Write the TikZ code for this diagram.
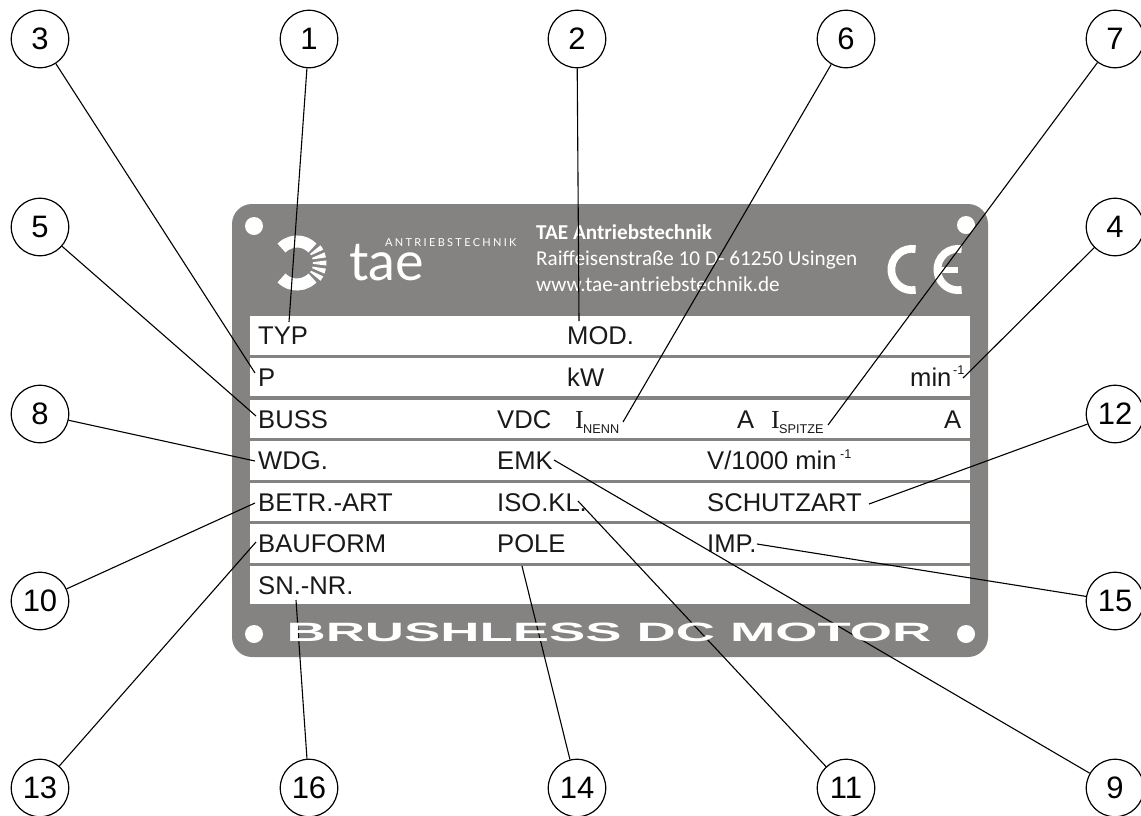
\documentclass[tikz,border=0pt]{standalone}
\usepackage{fontspec}
\setmainfont{Liberation Sans}
\newfontfamily\serifI{Liberation Serif}
\newfontfamily\infofont{Carlito}
\newfontfamily\logofont{Lato}
\newfontfamily\spacedfont[LetterSpace=21]{Lato}
\newfontfamily\platefont[FakeStretch=2.05]{Liberation Sans}
\definecolor{plategray}{HTML}{858381}
\tikzset{
    numcirc/.style={circle, draw, line width=1.2pt, minimum size=57.5pt, inner sep=0pt, font=\fontsize{31}{35}\selectfont},
    leader/.style={line width=1.1pt},
    lbl/.style={anchor=base west, inner sep=0pt, text=black!90, font=\fontsize{25.6}{30}\selectfont},
    info/.style={anchor=base west, inner sep=0pt, text=white, font=\infofont\fontsize{21.2}{25}\selectfont},
    subtxt/.style={anchor=base west, inner sep=0pt, text=black!90, font=\fontsize{12.7}{15}\selectfont},
}
\begin{document}
\begin{tikzpicture}[x=1pt, y=-1pt]
    \useasboundingbox (0,0) rectangle (1141,815);

    % plate
    \fill[plategray, rounded corners=20pt] (232,204) rectangle (988,657);
    \foreach \ya/\yb in {316/355, 358/396, 400/438, 441/480, 483/521, 524/563, 566/604}
        \fill[white] (250,\ya) rectangle (970,\yb);
    \foreach \hx/\hy in {254/226, 966/225, 254/634, 966/634}
        \fill[white] (\hx,\hy) circle[radius=9];

    % logo
    \begin{scope}[shift={(297,263)}]
        \draw[white, line width=12pt] (-136:21.5) arc[start angle=-136, end angle=-44, radius=21.5];
        \draw[white, line width=12pt] (44:21.5) arc[start angle=44, end angle=136, radius=21.5];
        \foreach \a in {-32,-16,0,16,32}
            \fill[white] (\a-3:16) -- (\a+3:16) -- (\a+5:29.5) -- (\a-5:29.5) -- cycle;
    \end{scope}
    \node[anchor=base west, inner sep=0pt, white, font=\logofont\fontsize{54}{58}\selectfont] (logotae) at (349,280) {tae};
    \node[anchor=base west, inner sep=0pt, white, font=\spacedfont\fontsize{11}{13}\selectfont] (logosub) at (385,246) {ANTRIEBSTECHNIK};

    % address
    \node[info, font=\infofont\bfseries\fontsize{21.2}{25}\selectfont] (addr1) at (536,239) {TAE Antriebstechnik};
    \node[info] (addr2) at (536,265) {Raiffeisenstraße 10 D- 61250 Usingen};
    \node[info] (addr3) at (536,291) {www.tae-antriebstechnik.de};

    % CE mark
    \draw[white, line width=7.7pt] (912,269.5) ++(80:20.7) arc[start angle=80, end angle=280, radius=20.7];
    \draw[white, line width=7.7pt] (958,269.5) ++(80:20.7) arc[start angle=80, end angle=280, radius=20.7];
    \fill[white] (941,266.5) rectangle (958,273);

    % column 1
    \node[lbl] (typ) at (258,344) {TYP};
    \node[lbl] (pw) at (258,386) {P};
    \node[lbl] (buss) at (258,428) {BUSS};
    \node[lbl] (wdg) at (258,469) {WDG.};
    \node[lbl] (betr) at (258,511) {BETR.-ART};
    \node[lbl] (bauform) at (258,552) {BAUFORM};
    \node[lbl] (snnr) at (258,594) {SN.-NR.};

    % column 2
    \node[lbl] (mod) at (567,344) {MOD.};
    \node[lbl] (kw) at (567,386) {kW};
    \node[lbl] (vdc) at (497,428) {VDC};
    \node[lbl] (emk) at (497,469) {EMK};
    \node[lbl] (iso) at (497,511) {ISO.KL.};
    \node[lbl] (pole) at (497,552) {POLE};

    % current row
    \node[lbl, font=\serifI\fontsize{26}{30}\selectfont] (inenn) at (575,428) {I};
    \node[subtxt] (nenn) at (583,433) {NENN};
    \node[lbl] (anenn) at (737,428) {A};
    \node[lbl, font=\serifI\fontsize{26}{30}\selectfont] (ispitze) at (771,428) {I};
    \node[subtxt] (spitze) at (779,433) {SPITZE};
    \node[lbl] (aspitze) at (944,428) {A};

    % column 3
    \node[lbl] (vmin) at (707,469) {V/1000 min};
    \node[subtxt] (vexp) at (840,458) {-1};
    \node[lbl] (schutz) at (707,511) {SCHUTZART};
    \node[lbl] (imp) at (707,552) {IMP.};
    \node[lbl] (rpm) at (910,386) {min};
    \node[subtxt] (rpmexp) at (953,374) {-1};

    % leader ends
    \foreach \n/\x/\y in {1/289/322, 2/579/321, 3/255/373, 4/963/378, 5/256/416, 6/623/422, 7/828/425, 8/255/461,
                          9/554/460, 10/255/503, 11/578/501, 12/869/504, 13/256/542, 14/522/566, 15/757/544, 16/296/600}
        \coordinate (e\n) at (\x,\y);

    % numbered circles
    \foreach \n/\x/\y in {3/40/39, 1/309/39, 2/577/39, 6/846/39, 7/1115/39,
                          5/40/227, 4/1115/227, 8/40/414, 12/1115/414,
                          10/40/601, 15/1115/601,
                          13/40/788, 16/309/788, 14/577/788, 11/846/788, 9/1115/788}
        \node[numcirc] (c\n) at (\x,\y) {\n};

    \foreach \n in {1,...,16}
        \draw[leader] (c\n) -- (e\n);

    % bottom line of the plate
    \node[anchor=base, inner sep=0pt, white, font=\platefont\bfseries\fontsize{26.5}{30}\selectfont] (motor) at (609,641) {BRUSHLESS DC MOTOR};
\end{tikzpicture}
\end{document}
